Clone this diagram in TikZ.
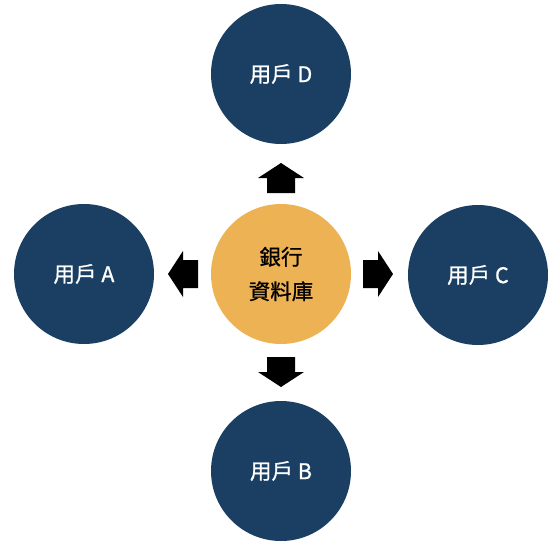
\documentclass[tikz,border=0pt]{standalone}
\usepackage{fontspec}
\setmainfont{Noto Sans CJK TC}
\newfontfamily\labelfont{Noto Sans CJK TC}[FakeBold=0.9]
\definecolor{userblue}{HTML}{1B3F63}
\definecolor{hubgold}{HTML}{EDB253}
\begin{document}
\begin{tikzpicture}[x=1pt,y=-1pt,
  user/.style={circle,fill=userblue,minimum size=140pt,inner sep=0pt,
    text=white,font=\labelfont\fontsize{21.5}{24}\selectfont},
  hub/.style={circle,fill=hubgold,minimum size=140pt,inner sep=0pt,
    text=black,align=center,font=\labelfont\fontsize{21.5}{34.5}\selectfont},
  pics/blockarrow/.style={code={
    \fill[black] (-15,-14) -- (0,-14) -- (0,-23) -- (15,0) -- (0,23)
      -- (0,14) -- (-15,14) -- cycle;}}]
\path[use as bounding box] (0,0) rectangle (560,554);

% central data store and the four users around it
\node[hub]  (bank) at (281,274) {銀行\\資料庫};
\node[user] (D) at (281,74)  {用戶 D};
\node[user] (A) at (84,274)  {用戶 A};
\node[user] (C) at (478,275) {用戶 C};
\node[user] (B) at (281,471) {用戶 B};

% outgoing block arrows from the data store
\coordinate (toD) at (281,178);
\coordinate (toA) at (183,274);
\coordinate (toC) at (378,274);
\coordinate (toB) at (281,372);
\pic[rotate=90]  at (toD) {blockarrow};
\pic[rotate=180] at (toA) {blockarrow};
\pic             at (toC) {blockarrow};
\pic[rotate=-90] at (toB) {blockarrow};
\end{tikzpicture}
\end{document}
